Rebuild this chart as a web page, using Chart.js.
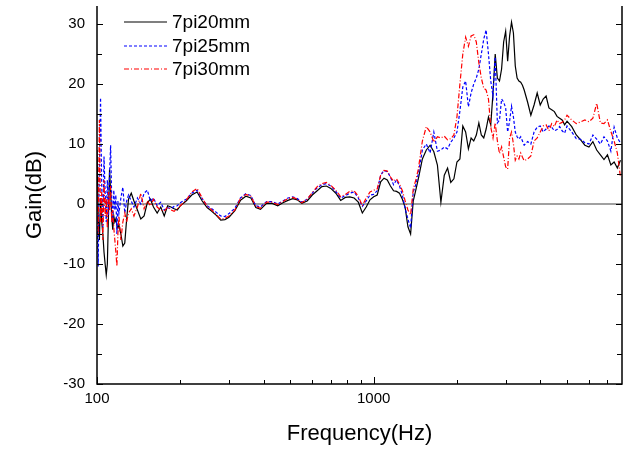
<!DOCTYPE html>
<html>
<head>
<meta charset="utf-8">
<script src="https://cdn.jsdelivr.net/npm/chart.js@4"></script>
<style>
  html, body { margin: 0; padding: 0; background: #fff; }
</style>
</head>
<body>
<canvas id="myChart" width="632" height="450"></canvas>
<script>
// frequency axis (Hz), shared by the three series
const freq = [
  100, 101, 102, 103, 104, 105, 106, 107, 108, 109, 110, 111, 112, 113, 114, 115, 116, 117, 118, 119, 120, 122, 124, 126, 128,
  130, 133, 136, 140, 144, 148, 152, 156, 160, 165, 170, 175, 180, 185, 190, 195, 200,
  210, 220, 230, 240, 250, 260, 270, 280, 290, 300,
  315, 330, 345, 360, 375, 390, 410, 430, 450, 470,
  490, 510, 530, 550, 575, 600, 625, 650, 675, 700,
  730, 760, 790, 820, 850, 880, 910, 940, 970, 1000,
  1030, 1060, 1090, 1120, 1150, 1180, 1210, 1240, 1270, 1300,
  1330, 1360, 1390, 1420, 1450, 1500, 1550, 1600, 1650, 1700,
  1750, 1800, 1850, 1900, 1950, 2000, 2050, 2100, 2150, 2200,
  2250, 2300, 2350, 2400, 2450, 2500, 2550, 2600, 2650, 2700,
  2750, 2800, 2850, 2900, 2950, 3000, 3050, 3100, 3150, 3200,
  3250, 3300, 3350, 3400, 3450, 3500, 3600, 3700, 3800, 3900,
  4000, 4100, 4200, 4300, 4400, 4500, 4600, 4700, 4800, 4900,
  5000, 5200, 5400, 5600, 5800, 6000, 6200, 6400, 6600, 6800,
  7000, 7200, 7400, 7600, 7800
];

// gain (dB) for each series
const gain20 = [
  9, -2, -6, 1, -3, -5, -8, -10, -11.8, -10, -2, 5.7, 2, -2, -4.3, -2, -3, -2.5, -3.5, -4, -3.5, -5, -7, -6.5, -2.5,
  0.8, 1.8, 0.5, -1.0, -2.5, -2.0, 0.2, 0.8, -0.5, -1.5, -0.5, -2.0, -0.3, -0.5, -0.8, -1.0, -0.3,
  0.5, 1.5, 2.0, 0.5, -0.6, -1.2, -1.9, -2.7, -2.6, -2.2,
  -1.1, 0.6, 1.3, 1.0, -0.6, -0.9, 0.1, 0.1, -0.3, 0.2,
  0.6, 0.9, 0.7, 0.1, 0.5, 1.5, 2.2, 2.9, 3.0, 2.6,
  1.8, 0.6, 1.1, 1.2, 1.0, 0.3, -1.5, -0.5, 0.7, 1.2,
  1.5, 3.7, 4.3, 4.0, 3.0, 2.2, 2.1, 1.8, 0.8, -0.6,
  -3.8, -5.0, 0.5, 2.3, 4.2, 7.5, 9.0, 9.8, 8.7, 6.5,
  0.3, 4.8, 6.0, 3.6, 4.2, 7.0, 7.5, 13.0, 12.0, 9.2,
  11.0, 10.5, 11.5, 13.5, 11.5, 11.0, 12.5, 14.5, 13.2, 18.5,
  25.0, 21.0, 20.5, 22.5, 27.0, 28.8, 23.8, 28.0, 30.3, 28.5,
  23.0, 21.0, 20.5, 20.3, 19.8, 19.0, 17.0, 14.8, 16.5, 18.5,
  16.5, 17.5, 18.0, 16.0, 15.7, 15.4, 14.6, 14.3, 14.0, 13.2,
  13.8, 12.9, 11.5, 10.7, 9.8, 9.5, 10.4, 9.0, 8.2, 7.4,
  8.2, 6.5, 7.0, 6.0, 7.3
];
const gain25 = [
  -2, -10.4, 6, 17.7, 3, -4, 7.9, 2, -3, 4, -2, 5, 9.8, 1, -3, 2.3, -1, 1.5, -5, 0.5, -1.5, 1, 2.8, -1.5, 0.5,
  1.5, 0.5, -0.5, 1.0, 0.0, 1.8, 2.3, 0.5, 1.0, -0.3, 0.3, -1.0, -0.6, -0.8, -0.4, -0.3, 0.2,
  0.8, 1.8, 2.3, 0.9, -0.3, -0.8, -1.4, -2.0, -2.1, -1.6,
  -0.7, 1.0, 1.7, 1.4, -0.3, -0.5, 0.4, 0.4, 0.0, 0.5,
  1.0, 1.2, 0.9, 0.3, 0.8, 1.8, 2.7, 3.2, 3.4, 3.0,
  2.1, 1.0, 1.4, 1.8, 2.0, 1.0, -0.4, 0.5, 1.5, 1.6,
  2.2, 4.8, 5.6, 5.4, 4.5, 3.2, 4.0, 3.0, 1.5, -0.8,
  -2.5, -4.0, 2.0, 3.2, 5.0, 9.0, 10.0, 8.5, 12.0, 8.8,
  9.0, 9.5, 9.2, 10.3, 11.0, 12.0, 15.5, 19.5, 20.5, 16.2,
  18.5, 20.0, 21.0, 22.5, 25.0, 27.5, 29.0, 25.0, 20.5, 18.0,
  24.5, 13.5, 14.0, 17.5, 17.0, 16.0, 12.0, 13.8, 16.3, 14.5,
  12.0, 11.2, 10.8, 11.2, 10.5, 9.8, 10.4, 10.0, 12.0, 12.8,
  13.0, 12.0, 12.5, 13.0, 12.8, 12.2, 12.4, 12.9, 12.2, 11.8,
  13.0, 12.0, 10.9, 10.8, 10.2, 10.0, 11.5, 10.8, 10.0, 11.2,
  10.5, 8.8, 12.8, 11.0, 10.2
];
const gain30 = [
  3, -5, 14, -3, 2, -6, 4, -2, 1, -4, 2, -1, 3, -3, -1, -4, -6, -8, -10.4, -5, -2, -6, -3, -1.5, -3,
  -1.5, -0.8, -2.0, -0.5, 1.8, -0.8, 0.5, -0.3, 0.8, -0.5, -1.0, -1.2, -0.5, -1.0, -1.2, -0.8, -0.3,
  0.6, 2.0, 2.6, 1.0, -0.4, -1.0, -1.8, -2.5, -2.4, -2.0,
  -1.0, 0.9, 1.6, 1.3, -0.4, -0.7, 0.3, 0.3, -0.1, 0.4,
  0.9, 1.1, 0.8, 0.2, 0.8, 1.9, 2.9, 3.4, 3.6, 3.1,
  2.3, 1.2, 1.6, 2.1, 2.2, 1.3, -0.3, 1.0, 2.0, 2.3,
  2.5, 4.8, 5.6, 5.5, 4.5, 3.8, 4.2, 3.3, 2.2, 0.5,
  -1.0, -1.8, 2.5, 4.0, 5.8, 10.5, 12.9, 12.0, 10.3, 11.2,
  11.0, 11.3, 10.7, 10.9, 11.5, 14.5, 20.0, 25.0, 27.8, 26.3,
  28.0, 28.2, 27.0, 23.5, 21.0, 19.3, 19.0, 17.5, 12.8, 11.0,
  13.5, 10.5, 8.4, 9.5, 7.8, 6.2, 5.8, 11.0, 12.0, 10.0,
  7.3, 8.0, 7.5, 8.5, 7.8, 7.2, 7.5, 8.0, 10.5, 11.0,
  12.0, 13.0, 13.2, 12.2, 13.4, 12.9, 14.0, 13.4, 13.6, 14.0,
  14.8, 14.0, 13.4, 13.7, 14.0, 13.7, 14.3, 16.8, 13.5, 13.4,
  14.0, 12.1, 10.5, 8.5, 4.5
];

const seriesNames = ["7pi20mm", "7pi25mm", "7pi30mm"];
const xTickLabels = [100, 1000];
const xMinorTicks = [200, 300, 400, 500, 600, 700, 800, 900, 2000, 3000, 4000, 5000, 6000, 7000];
const yTickLabels = [-30, -20, -10, 0, 10, 20, 30];
const yMinorTicks = [-25, -15, -5, 5, 15, 25];

const FONT = "Arial, 'Liberation Sans', sans-serif";

function toPoints(values) {
  return freq.map((f, i) => ({ x: f, y: values[i] }));
}

// axes frame, inward ticks, zero line and the legend inside the plot
const framePlugin = {
  id: "frame",
  beforeDatasetsDraw(chart) {
    const ctx = chart.ctx;
    const area = chart.chartArea;
    const y0 = chart.scales.y.getPixelForValue(0);
    ctx.save();
    ctx.strokeStyle = "#808080";
    ctx.lineWidth = 1.5;
    ctx.beginPath();
    ctx.moveTo(area.left, y0);
    ctx.lineTo(area.right, y0);
    ctx.stroke();
    ctx.restore();
  },
  afterDraw(chart) {
    const ctx = chart.ctx;
    const area = chart.chartArea;
    const xs = chart.scales.x;
    const ys = chart.scales.y;
    ctx.save();
    ctx.strokeStyle = "#000";
    ctx.lineWidth = 1.5;
    ctx.beginPath();
    ctx.moveTo(area.left, area.top);
    ctx.lineTo(area.left, area.bottom);
    ctx.lineTo(area.right, area.bottom);
    ctx.lineTo(area.right, area.top);
    ctx.stroke();

    ctx.lineWidth = 1;
    ctx.beginPath();
    xTickLabels.forEach(v => {
      const px = Math.round(xs.getPixelForValue(v)) + 0.5;
      ctx.moveTo(px, area.bottom);
      ctx.lineTo(px, area.bottom - 7);
    });
    xMinorTicks.forEach(v => {
      const px = Math.round(xs.getPixelForValue(v)) + 0.5;
      ctx.moveTo(px, area.bottom);
      ctx.lineTo(px, area.bottom - 4);
    });
    yTickLabels.concat(yMinorTicks).forEach(v => {
      const len = v % 10 === 0 ? 6 : 5;
      const py = Math.round(ys.getPixelForValue(v)) + 0.5;
      ctx.moveTo(area.left, py);
      ctx.lineTo(area.left + len, py);
      ctx.moveTo(area.right, py);
      ctx.lineTo(area.right - len, py);
    });
    ctx.stroke();

    // legend
    const rows = [22, 46, 69];
    chart.data.datasets.forEach((ds, i) => {
      ctx.strokeStyle = ds.borderColor;
      ctx.lineWidth = ds.borderWidth;
      ctx.setLineDash(ds.borderDash || []);
      ctx.beginPath();
      ctx.moveTo(124, rows[i]);
      ctx.lineTo(167, rows[i]);
      ctx.stroke();
      ctx.setLineDash([]);
      ctx.fillStyle = "#000";
      ctx.font = "19px " + FONT;
      ctx.textBaseline = "middle";
      ctx.textAlign = "left";
      ctx.fillText(ds.label, 172, rows[i] + 1);
    });
    ctx.restore();
  }
};

const ctx = document.getElementById("myChart").getContext("2d");
const myChart = new Chart(ctx, {
  type: "line",
  data: {
    datasets: [
      {
        label: seriesNames[0],
        data: toPoints(gain20),
        borderColor: "#000000",
        borderWidth: 1.2,
        order: 3
      },
      {
        label: seriesNames[1],
        data: toPoints(gain25),
        borderColor: "#0000ff",
        borderWidth: 1.2,
        borderDash: [3, 2],
        order: 2
      },
      {
        label: seriesNames[2],
        data: toPoints(gain30),
        borderColor: "#ff0000",
        borderWidth: 1.2,
        borderDash: [5, 2, 1, 2],
        order: 1
      }
    ]
  },
  options: {
    responsive: false,
    animation: false,
    devicePixelRatio: 1,
    layout: { padding: { left: 0, right: 10, top: 6, bottom: 0 } },
    elements: { point: { radius: 0 }, line: { tension: 0, fill: false } },
    plugins: { legend: { display: false }, tooltip: { enabled: false } },
    scales: {
      x: {
        type: "logarithmic",
        min: 100,
        max: 7900,
        afterBuildTicks: s => { s.ticks = xTickLabels.map(v => ({ value: v })); },
        afterFit: s => { s.height = 66; s.paddingLeft = 0; s.paddingRight = 0; },
        grid: { display: false, drawTicks: false },
        border: { display: false },
        ticks: {
          color: "#000",
          font: { family: FONT, size: 15 },
          padding: 6,
          maxRotation: 0,
          autoSkip: false,
          callback: v => String(v)
        },
        title: {
          display: true,
          text: "Frequency(Hz)",
          color: "#000",
          font: { family: FONT, size: 22 },
          padding: { top: 0, bottom: 3 }
        }
      },
      y: {
        min: -30,
        max: 33,
        afterBuildTicks: s => { s.ticks = yTickLabels.map(v => ({ value: v })); },
        afterFit: s => { s.width = 97; s.paddingTop = 0; s.paddingBottom = 0; },
        grid: { display: false, drawTicks: false },
        border: { display: false },
        ticks: {
          color: "#000",
          font: { family: FONT, size: 15 },
          padding: 12,
          callback: v => String(v)
        },
        title: {
          display: true,
          text: "Gain(dB)",
          color: "#000",
          font: { family: FONT, size: 22 },
          padding: { top: 22, bottom: 0 }
        }
      }
    }
  },
  plugins: [framePlugin]
});
</script>
</body>
</html>
